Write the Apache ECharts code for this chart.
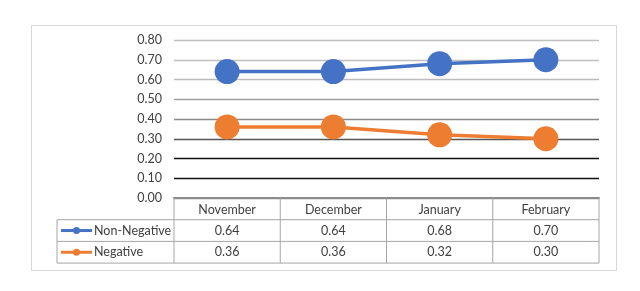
<!DOCTYPE html>
<html>
<head>
<meta charset="utf-8">
<script src="https://cdn.jsdelivr.net/npm/echarts@6/dist/echarts.min.js"></script>
<style>
html,body{margin:0;padding:0;background:#fff;}
#c{width:640px;height:291px;}
</style>
</head>
<body>
<div id="c"></div>
<script>
var categories = ['November', 'December', 'January', 'February'];
var seriesNames = ['Non-Negative', 'Negative'];
var nonNegative = [0.64, 0.64, 0.68, 0.70];
var negative = [0.36, 0.36, 0.32, 0.30];
var yTicks = [0, 0.1, 0.2, 0.3, 0.4, 0.5, 0.6, 0.7, 0.8];

var colors = ['#4472C4', '#ED7D31'];
var FONT = 'Lato, "Open Sans", sans-serif';
var TXT = '#404040';

var chart = echarts.init(document.getElementById('c'), null, {renderer: 'canvas'});
var option = {
  animation: false,
  backgroundColor: '#fff',
  grid: {left: 174, right: 41, top: 40, bottom: 93, containLabel: false},
  xAxis: {
    type: 'category',
    data: categories,
    boundaryGap: true,
    axisLine: {show: true, lineStyle: {color: '#8c8c8c', width: 2}},
    axisTick: {show: false},
    axisLabel: {margin: 5, color: TXT, fontFamily: FONT, fontSize: 12.5}
  },
  yAxis: {
    type: 'value',
    min: yTicks[0],
    max: yTicks[yTicks.length - 1],
    interval: 0.1,
    axisLine: {show: false},
    axisTick: {show: false},
    axisLabel: {margin: 12, color: TXT, fontFamily: FONT, fontSize: 12.5,
      formatter: function (v) { return v.toFixed(2); }},
    splitLine: {show: true, lineStyle: {width: 1.3,
      color: ['#8c8c8c', '#111', '#111', '#555', '#8a8a8a', '#a0a0a0', '#bcbcbc', '#c0c0c0', '#c0c0c0']}}
  },
  series: [
    {name: seriesNames[0], type: 'line', data: nonNegative, symbol: 'circle', symbolSize: 25,
      itemStyle: {color: colors[0]}, lineStyle: {color: colors[0], width: 3.5}, z: 3},
    {name: seriesNames[1], type: 'line', data: negative, symbol: 'circle', symbolSize: 25,
      itemStyle: {color: colors[1]}, lineStyle: {color: colors[1], width: 3.5}, z: 3}
  ]
};
chart.setOption(option);

// Data table below the plot, positioned from the axis scale
var cx = categories.map(function (c, i) { return chart.convertToPixel({xAxisIndex: 0}, i); });
var bw = cx.length > 1 ? cx[1] - cx[0] : 100;
var left = cx[0] - bw / 2;
var right = cx[cx.length - 1] + bw / 2;
var y0 = chart.convertToPixel({yAxisIndex: 0}, 0);
var rowH = 21.7;
var legendLeft = 57;
var rows = [y0 + rowH, y0 + 2 * rowH, y0 + 3 * rowH];
var lineColor = '#a6a6a6';
var g = [];
function ln(x1, y1, x2, y2, c, w) {
  g.push({type: 'line', shape: {x1: x1, y1: y1, x2: x2, y2: y2}, style: {stroke: c || lineColor, lineWidth: w || 1}, silent: true, z: 10});
}
// outer frame
g.push({type: 'rect', shape: {x: 31.5, y: 25.5, width: 585, height: 245}, style: {fill: null, stroke: '#d9d9d9', lineWidth: 1}, z: 0});
// horizontal lines
ln(legendLeft, rows[0], right, rows[0]);
ln(legendLeft, rows[1], right, rows[1]);
ln(legendLeft, rows[2], right, rows[2]);
// vertical lines
ln(legendLeft, rows[0], legendLeft, rows[2]);
for (var i = 0; i <= categories.length; i++) {
  var x = left + i * bw;
  ln(x, y0, x, rows[2]);
}
var data = [nonNegative, negative];
for (var r = 0; r < 2; r++) {
  var yc = (rows[r] + rows[r + 1]) / 2;
  // legend key
  g.push({type: 'line', shape: {x1: 61, y1: yc, x2: 92, y2: yc}, style: {stroke: colors[r], lineWidth: 3}, z: 11});
  g.push({type: 'circle', shape: {cx: 76.5, cy: yc, r: 3.5}, style: {fill: colors[r]}, z: 11});
  g.push({type: 'text', x: 94, y: yc, style: {text: seriesNames[r], fill: TXT, font: '12.5px ' + FONT, textAlign: 'left', textVerticalAlign: 'middle'}, z: 11});
  for (var c = 0; c < categories.length; c++) {
    g.push({type: 'text', x: cx[c], y: yc, style: {text: data[r][c].toFixed(2), fill: TXT, font: '12.5px ' + FONT, textAlign: 'center', textVerticalAlign: 'middle'}, z: 11});
  }
}
chart.setOption({graphic: g});
</script>
</body>
</html>
